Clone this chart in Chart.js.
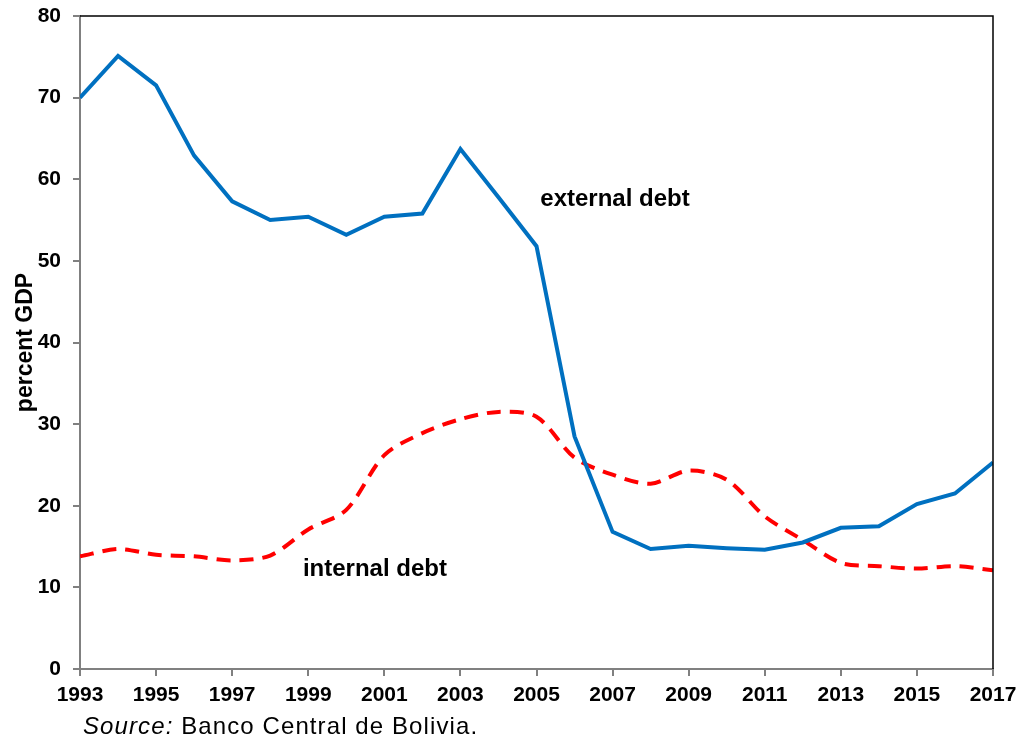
<!DOCTYPE html>
<html>
<head>
<meta charset="utf-8">
<script src="https://cdn.jsdelivr.net/npm/chart.js@4/dist/chart.umd.min.js"></script>
<style>
  html, body { margin: 0; padding: 0; background: #fff; }
  #wrap { position: relative; width: 1030px; height: 752px; }
  #source { position: absolute; left: 83px; top: 714px; font-family: "Liberation Sans", Arial, sans-serif; font-size: 24px; letter-spacing: 1.1px; color: #000; white-space: nowrap; line-height: 1; }
</style>
</head>
<body>
<div id="wrap">
  <canvas id="c" width="1030" height="752"></canvas>
  <div id="source"><i>Source:</i> Banco Central de Bolivia.</div>
</div>
<script>
const years = [1993,1994,1995,1996,1997,1998,1999,2000,2001,2002,2003,2004,2005,2006,2007,2008,2009,2010,2011,2012,2013,2014,2015,2016,2017];
const externalDebt = [70.0,75.1,71.5,62.9,57.3,55.0,55.4,53.2,55.4,55.8,63.7,57.8,51.8,28.5,16.8,14.7,15.1,14.8,14.6,15.5,17.3,17.5,20.2,21.5,25.3];
const internalDebt = [13.8,14.7,14.0,13.8,13.3,13.9,17.1,19.5,26.2,28.9,30.6,31.5,30.9,25.9,23.8,22.7,24.3,23.2,18.7,15.8,13.0,12.6,12.3,12.6,12.1];
const yTicks = [0,10,20,30,40,50,60,70,80];
const xTicks = [1993,1995,1997,1999,2001,2003,2005,2007,2009,2011,2013,2015,2017];
const annotations = [
  { text: "external debt", x: 2005.1, y: 57.5 },
  { text: "internal debt", x: 1998.86, y: 12.15 }
];

const FONT = '"Liberation Sans", Arial, sans-serif';

const frame = {
  id: 'frame',
  afterDatasetsDraw(chart) {
    const { ctx, chartArea: a, scales } = chart;
    ctx.save();
    ctx.strokeStyle = '#000';
    ctx.lineWidth = 1.5;
    ctx.beginPath();
    ctx.moveTo(a.left, a.top);
    ctx.lineTo(a.right, a.top);
    ctx.lineTo(a.right, a.bottom);
    ctx.stroke();
    ctx.fillStyle = '#000';
    ctx.font = 'bold 24px ' + FONT;
    ctx.textAlign = 'left';
    ctx.textBaseline = 'middle';
    annotations.forEach(an => {
      ctx.fillText(an.text, scales.x.getPixelForValue(an.x), scales.y.getPixelForValue(an.y));
    });
    ctx.restore();
  }
};

new Chart(document.getElementById('c'), {
  type: 'line',
  data: {
    datasets: [
      {
        label: 'external debt',
        data: years.map((y, i) => ({ x: y, y: externalDebt[i] })),
        borderColor: '#0070C0',
        borderWidth: 4,
        pointRadius: 0,
        tension: 0,
        fill: false
      },
      {
        label: 'internal debt',
        data: years.map((y, i) => ({ x: y, y: internalDebt[i] })),
        borderColor: '#FF0000',
        borderWidth: 4,
        borderDash: [14, 9],
        pointRadius: 0,
        tension: 0.3,
        fill: false
      }
    ]
  },
  options: {
    responsive: false,
    devicePixelRatio: 1,
    animation: false,
    layout: { padding: { left: 0, right: 37, top: 16, bottom: 43 } },
    plugins: { legend: { display: false }, tooltip: { enabled: false } },
    scales: {
      x: {
        type: 'linear',
        min: 1993,
        max: 2017,
        afterBuildTicks: s => { s.ticks = xTicks.map(v => ({ value: v })); },
        afterFit: s => { s.height = 40; s.paddingLeft = 0; s.paddingRight = 0; },
        ticks: { callback: v => String(v), color: '#000', font: { family: FONT, size: 21, weight: 'bold' }, padding: 7, maxRotation: 0, autoSkip: false },
        grid: { drawOnChartArea: false, drawTicks: true, tickLength: 7, color: '#808080', lineWidth: 2 },
        border: { color: '#808080', width: 2 }
      },
      y: {
        min: 0,
        max: 80,
        afterBuildTicks: s => { s.ticks = yTicks.map(v => ({ value: v })); },
        afterFit: s => { s.width = 80; s.paddingTop = 0; s.paddingBottom = 0; },
        ticks: { color: '#000', font: { family: FONT, size: 21, weight: 'bold' }, padding: 12 },
        grid: { drawOnChartArea: false, drawTicks: true, tickLength: 7, color: '#808080', lineWidth: 2 },
        border: { color: '#808080', width: 2 },
        title: { display: true, text: 'percent GDP', color: '#000', font: { family: FONT, size: 23, weight: 'bold' }, padding: { top: 12, bottom: 0 } }
      }
    }
  },
  plugins: [frame]
});
</script>
</body>
</html>
